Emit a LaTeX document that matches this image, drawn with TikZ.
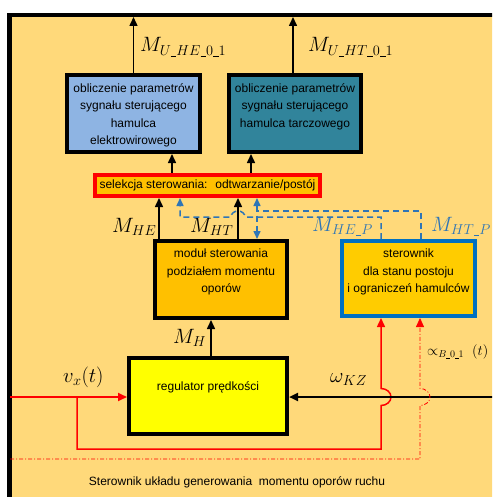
\documentclass[tikz,border=0pt]{standalone}
\usepackage{fontspec}
\setmainfont{Liberation Sans}
\usetikzlibrary{arrows.meta}

\definecolor{panel}{RGB}{255,217,122}
\definecolor{heblue}{RGB}{142,180,227}
\definecolor{htteal}{RGB}{49,132,155}
\definecolor{amber}{RGB}{255,192,0}
\definecolor{amberlt}{RGB}{255,204,0}
\definecolor{regyel}{RGB}{255,255,0}
\definecolor{stblue}{RGB}{0,112,192}
\definecolor{sigblue}{RGB}{46,117,182}
\definecolor{sigred}{RGB}{255,0,0}

% short low bars used inside subscripts
\newcommand{\lbar}{\mathord{\rule[-1.3pt]{5.5pt}{0.7pt}}}
\newcommand{\lbarsm}{\mathord{\rule[-0.9pt]{3.6pt}{0.5pt}}}

\begin{document}
\begin{tikzpicture}[x=1pt,y=-1pt,
  txt/.style={font=\fontsize{12}{17.5}\selectfont, align=center, inner sep=0pt},
  blk/.style={draw=black, line width=4pt, inner sep=0pt},
  mlab/.style={font=\fontsize{20}{24}\selectfont, inner sep=0pt, anchor=base west},
  tip/.style={-{Triangle[length=9pt,width=8pt]}},
  sig/.style={line width=1.5pt, tip},
  bdash/.style={draw=sigblue, line width=1.5pt, dash pattern=on 6pt off 4pt},
  btip/.style={-{Triangle[length=8pt,width=7pt]}},
  bboth/.style={{Triangle[length=8pt,width=7pt]}-{Triangle[length=8pt,width=7pt]}}]

\useasboundingbox (0,0) rectangle (492,497);
\clip (0,0) rectangle (492,497);

% outer panel, open to the right and bottom
\fill[panel] (9.5,15) rectangle (520,520);
\draw[line width=4.5pt] (9.5,520) -- (9.5,15) -- (520,15);

% blocks
\node[blk, fill=heblue, minimum width=133pt, minimum height=77pt] (he) at (133.5,113.5) {};
\node[txt, anchor=north] (heT) at ([yshift=-10pt]he.north)
  {obliczenie parametrów\\sygnału sterującego\\hamulca\\elektrowirowego};

\node[blk, fill=htteal, minimum width=132pt, minimum height=77pt] (ht) at (295,113.5) {};
\node[txt, anchor=north] (htT) at ([yshift=-10pt]ht.north)
  {obliczenie parametrów\\sygnału sterującego\\hamulca tarczowego};

\node[draw=sigred, line width=4pt, fill=amber, inner sep=0pt,
      minimum width=225pt, minimum height=21pt, font=\fontsize{12}{14}\selectfont]
  (sel) at (207.5,185.5) {selekcja sterowania:~ odtwarzanie/postój};

\node[blk, fill=amber, minimum width=132pt, minimum height=77pt] (mod) at (221,279.5) {};
\node[txt, anchor=north] (modT) at ([yshift=-10pt]mod.north)
  {moduł sterowania\\podziałem momentu\\oporów};

\node[draw=stblue, line width=4pt, inner sep=0pt, fill=amberlt,
      minimum width=133pt, minimum height=75pt] (ster) at (408.5,278.5) {};
\node[txt, anchor=north] (sterT) at ([yshift=-10pt]ster.north)
  {sterownik\\dla stanu postoju\\i ograniczeń hamulców};

\node[blk, fill=regyel, minimum width=158pt, minimum height=76pt] (reg) at (208,396) {};
\node[txt] (regT) at ([yshift=9pt]reg.center) {regulator prędkości};

% outputs
\coordinate (outHE) at (133.5,17);
\coordinate (outHT) at (293,17);
\draw[sig] (he.north -| outHE) -- (outHE);
\draw[sig] (ht.north -| outHT) -- (outHT);
\node[mlab] (lUHE) at (140,52) {$M_{U\lbar HE\lbar 0\lbar 1}$};
\node[mlab] (lUHT) at (308,52) {$M_{U\lbar HT\lbar 0\lbar 1}$};

% selection to computation blocks
\draw[sig] (sel.north -| 172,0) -- (he.south -| 172,0);
\draw[sig] (sel.north -| 251,0) -- (ht.south -| 251,0);

% split module to selection
\draw[sig] (mod.north -| 159,0) -- (sel.south -| 159,0);
\draw[sig] (mod.north -| 238,0) -- (sel.south -| 238,0);
\node[mlab] (lHE) at (112,232) {$M_{HE}$};
\node[mlab] (lHT) at (190,232) {$M_{HT}$};

% standstill controller signals (dashed)
\draw[bdash, btip] (ster.north -| 381,0) -- (381,217) -- (245,217)
  arc[start angle=0, end angle=180, x radius=7pt, y radius=6pt]
  -- (180,217) -- (sel.south -| 180,0);
\draw[bdash] (ster.north -| 421,0) -- (421,211) -- (257,211);
\draw[bdash, bboth] (sel.south -| 257,0) -- (mod.north -| 257,0);
\node[mlab, text=sigblue] (lHEP) at (312,231) {$M_{HE\lbar P}$};
\node[mlab, text=sigblue] (lHTP) at (431,231) {$M_{HT\lbar P}$};

% speed controller to module
\draw[sig] (reg.north -| 211,0) -- (mod.south -| 211,0);
\node[mlab] (lH) at (173,343) {$M_{H}$};

% velocity input
\coordinate (vin) at (10,397);
\coordinate (br) at (77,397);
\draw[sigred, line width=2pt, tip] (vin) -- (vin -| reg.west);
\node[mlab, font=\fontsize{22}{26}\selectfont] (lvx) at (63,382) {$v_x(t)$};
\draw[sigred, line width=1.5pt, tip] (br) -- (77,449) -- (381,449) -- (381,405.5)
  arc[start angle=-90, end angle=90, x radius=10pt, y radius=8.5pt]
  -- (ster.south -| 381,0);

% wheel speed feedback
\coordinate (win) at (500,397);
\draw[line width=2.5pt, tip] (win) -- (win -| reg.east);
\node[mlab] (lw) at (330,382) {$\omega_{KZ}$};

% brake signal (dash-dot)
\coordinate (dd) at (10,459);
\draw[sigred, line width=0.8pt, dash pattern=on 4pt off 2pt on 1pt off 2pt,
      -{Triangle[length=9pt,width=8pt]}]
  (dd) -- (420,459) -- (420,405.5)
  arc[start angle=-90, end angle=90, x radius=10pt, y radius=8.5pt]
  -- (ster.south -| 420,0);
\node[font=\fontsize{14}{16}\selectfont, inner sep=0pt, anchor=base west]
  (la) at (427,355) {$\propto_{B\lbarsm 0\lbarsm 1}\;(t)$};

% caption
\node[txt, anchor=base] (cap) at (237,485)
  {Sterownik układu generowania~ momentu oporów ruchu};
\end{tikzpicture}
\end{document}
